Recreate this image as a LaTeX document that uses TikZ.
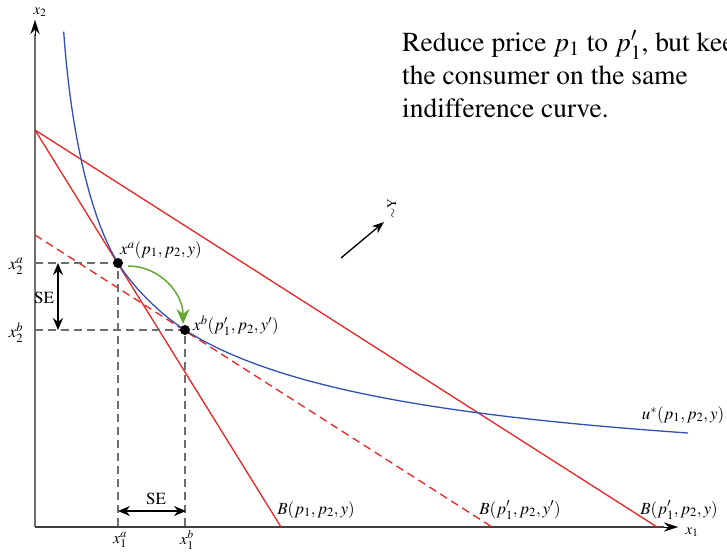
\documentclass[tikz,border=0pt]{standalone}
\usepackage{mathptmx}
\usepackage[T1]{fontenc}
\usetikzlibrary{arrows.meta}
\definecolor{bred}{RGB}{235,35,35}
\definecolor{icblue}{RGB}{50,80,180}
\definecolor{grn}{RGB}{100,170,50}
\definecolor{axgray}{RGB}{110,110,110}
\tikzset{
  budget/.style={bred, line width=1.3pt},
  budgetdash/.style={bred, line width=1.3pt, dash pattern=on 8pt off 5pt},
  guide/.style={axgray, line width=1.2pt, dash pattern=on 8pt off 5pt},
  lbl/.style={font=\fontsize{17}{20}\selectfont, inner sep=0pt},
  axlbl/.style={font=\fontsize{15}{18}\selectfont, inner sep=0pt},
  bigtext/.style={font=\fontsize{27.5}{33}\selectfont, inner sep=0pt, anchor=base west},
  dot/.style={circle, fill=black, inner sep=0pt, minimum size=10pt},
  tip/.style={-{Stealth[length=12pt,width=9pt]}},
  dbl/.style={black, line width=1.5pt, {Stealth[length=12pt,width=10pt]}-{Stealth[length=12pt,width=10pt]}},
}
\begin{document}
\begin{tikzpicture}[x=1pt,y=-1pt]
\useasboundingbox (0,0) rectangle (727,552);
% axes
\coordinate (O) at (35,527);
\coordinate (ytop) at (35,20);
\coordinate (xend) at (678,527);
\draw[axgray, line width=2pt] (O) -- (35,34);
\draw[black, line width=0.1pt, -{Stealth[length=14pt,width=9pt]}] (35,36) -- (ytop);
\draw[black!75, line width=1.3pt] (O) -- (664,527);
\draw[black, line width=0.1pt, -{Stealth[length=14pt,width=9pt]}] (664,527) -- (xend);
\node[axlbl] (x2lab) at (40,12) {$x_2$};
\node[axlbl] (x1lab) at (692,532) {$x_1$};
% budget lines
\coordinate (Btop) at (35,130);
\coordinate (B1) at (281,527);
\coordinate (B2) at (657,527);
\coordinate (Bdtop) at (35,235);
\coordinate (Bd) at (492,527);
\draw[budget] (Btop) -- (B1);
\draw[budget] (Btop) -- (B2);
\draw[budgetdash] (Bdtop) -- (Bd);
% points
\coordinate (xa) at (118,263);
\coordinate (xb) at (185,330);
\coordinate (uend) at (688,433);
\coordinate (utop) at (63.7,31.7);
\draw[guide] (xa -| O) -- (xa) -- (xa |- O);
\draw[guide] (xb -| O) -- (xb) -- (xb |- O);
% indifference curve
\draw[icblue, line width=1.3pt] (utop)
  .. controls (71.4,141.7) and (93,222.7) .. (xa)
  .. controls (132.9,287) and (159.7,313.8) .. (xb)
  .. controls (275,387.4) and (438,415.5) .. (uend);
\node[dot] (A) at (xa) {};
\node[dot] (Bp) at (xb) {};
% green arrow
\coordinate (g1) at (128,266);
\coordinate (g2) at (183,324);
\draw[grn, line width=1.5pt, -{Stealth[length=15pt,width=13pt]}] (g1) to[out=0,in=90] (g2);
% SE arrows
\coordinate (sev1) at (58,263);
\coordinate (sev2) at (58,330);
\draw[dbl] (sev1) -- (sev2);
\node[lbl] (se1) at (44,298) {SE};
\coordinate (seh1) at (118,511);
\coordinate (seh2) at (186,511);
\draw[dbl] (seh1) -- (seh2);
\node[lbl] (se2) at (156,499) {SE};
% axis tick labels
\node[lbl] (x2a) at (16,266) {$x_2^a$};
\node[lbl] (x2b) at (16,333) {$x_2^b$};
\node[lbl, font=\fontsize{16}{18}\selectfont] (x1a) at (120,540) {$x_1^a$};
\node[lbl, font=\fontsize{16}{18}\selectfont] (x1b) at (187,540) {$x_1^b$};
% point labels
\node[lbl, anchor=west] (laba) at (120,250) {$x^a(p_1,p_2,y)$};
\node[lbl, anchor=west] (labb) at (193,326) {$x^b(p_1',p_2,y')$};
\node[lbl] (labu) at (683,415) {$u^*(p_1,p_2,y)$};
\node[lbl] (lb1) at (316,510) {$B(p_1,p_2,y)$};
\node[lbl] (lb2) at (520,510) {$B(p_1',p_2,y')$};
\node[lbl] (lb3) at (679,510) {$B(p_1',p_2,y)$};
% small arrow
\coordinate (ar1) at (341,258);
\coordinate (ar2) at (384,222);
\draw[black, line width=1.3pt, tip] (ar1) -- (ar2);
\node[inner sep=0pt, rotate=90, font=\fontsize{13}{13}\selectfont] (ytil) at (392,209) {$\sim$Y};
% text
\node[bigtext] (t1) at (402,51) {Reduce price $p_1$ to $p_1'$, but keep};
\node[bigtext] (t2) at (402,84) {the consumer on the same};
\node[bigtext] (t3) at (402,117) {indifference curve.};
\end{tikzpicture}
\end{document}
